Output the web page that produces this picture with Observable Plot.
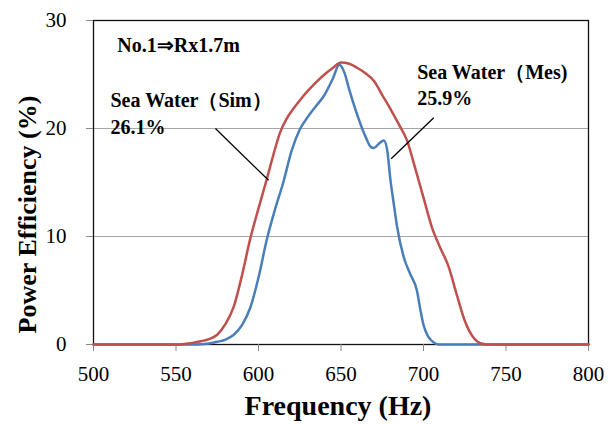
<!DOCTYPE html>
<html><head><meta charset="utf-8">
<script src="https://cdn.jsdelivr.net/npm/d3@7"></script>
<script src="https://cdn.jsdelivr.net/npm/@observablehq/plot@0.6"></script>
<style>html,body{margin:0;padding:0;background:#fff}#chart svg{display:block}</style>
</head><body><div id="chart"></div>
<script>
// Simulation (red)
const simFreq = [500, 550, 555, 560, 565, 570, 575, 580, 585, 590, 595, 600, 605, 610, 613, 617, 620, 625, 630, 635, 640, 645, 650, 655, 660, 665, 670, 675, 680, 685, 690, 695, 700, 705, 710, 715, 720, 725, 730, 735, 740, 800];
const simEff  = [0, 0, 0.05, 0.15, 0.3, 0.5, 0.9, 1.9, 3.5, 6.4, 9.8, 12.6, 15.3, 18.1, 19.6, 20.9, 21.6, 22.6, 23.5, 24.3, 25.0, 25.6, 26.1, 26.0, 25.6, 25.1, 24.4, 23.1, 21.8, 20.4, 18.9, 16.3, 13.6, 10.9, 9.0, 7.3, 4.7, 2.2, 0.7, 0.1, 0, 0];
// Measurement (blue)
const mesFreq = [500, 560, 565, 570, 575, 580, 585, 590, 595, 600, 605, 610, 615, 620, 625, 630, 635, 640, 645, 649, 652, 655, 660, 665, 668, 670, 673, 676, 678, 680, 682, 684, 688, 692, 696, 698, 700, 703, 706, 709, 800];
const mesEff  = [0, 0, 0.02, 0.1, 0.25, 0.45, 0.9, 1.8, 3.4, 6.2, 9.7, 12.5, 15.0, 17.9, 19.9, 21.1, 22.1, 23.1, 24.6, 25.9, 25.2, 23.6, 21.2, 19.2, 18.3, 18.2, 18.6, 18.9, 18.0, 15.2, 13.0, 10.9, 8.1, 6.5, 5.0, 3.3, 1.8, 0.7, 0.2, 0, 0];

const xTicks = [500, 550, 600, 650, 700, 750, 800];
const yTicks = [0, 10, 20, 30];
const gridLines = [10, 20];

// annotation texts, anchored in data space (freq, efficiency)
const noteText = ["No.1⇒Rx1.7m", "Sea Water（Sim）", "26.1%", "Sea Water（Mes)", "25.9%"];
const noteFreq = [514.4, 510.3, 510.3, 696.2, 696.2];
const noteEff  = [27.04, 21.97, 19.5, 24.6, 22.2];
// leader lines
const leadFreq1 = [573.9, 706.2];
const leadEff1  = [20.0, 21.0];
const leadFreq2 = [606.1, 680.4];
const leadEff2  = [15.2, 17.2];

const sim = simFreq.map((f, i) => ({f, v: simEff[i]}));
const mes = mesFreq.map((f, i) => ({f, v: mesEff[i]}));
const notes = noteText.map((t, i) => ({t, f: noteFreq[i], v: noteEff[i]}));
const leaders = leadFreq1.map((f, i) => ({f1: f, v1: leadEff1[i], f2: leadFreq2[i], v2: leadEff2[i]}));

const serif = "Liberation Serif";
const chart = Plot.plot({
  width: 614, height: 424,
  marginLeft: 93, marginRight: 26, marginTop: 20, marginBottom: 80,
  style: "font-family: 'Liberation Serif', serif; font-size: 21px; color: #000; background: #fff;",
  x: {domain: [500, 800]},
  y: {domain: [0, 30]},
  marks: [
    Plot.ruleY(gridLines, {stroke: "#a6a6a6", strokeWidth: 1}),
    Plot.frame({stroke: "#111", strokeWidth: 1.3}),
    Plot.axisX({ticks: xTicks, tickSize: 7, tickPadding: 15, stroke: "#888", label: null, fontSize: 21, fontFamily: serif}),
    Plot.axisY({ticks: yTicks, tickSize: 7, tickPadding: 20, stroke: "#888", label: null, fontSize: 21, fontFamily: serif}),
    Plot.line(mes, {x: "f", y: "v", stroke: "#4A7EBB", strokeWidth: 2.5, curve: "monotone-x"}),
    Plot.line(sim, {x: "f", y: "v", stroke: "#C0504D", strokeWidth: 2.5, curve: "monotone-x"}),
    Plot.link(leaders, {x1: "f1", y1: "v1", x2: "f2", y2: "v2", stroke: "#000", strokeWidth: 1.3}),
    Plot.text(notes, {x: "f", y: "v", text: "t", textAnchor: "start", lineAnchor: "bottom", fontWeight: "bold", fontSize: 20, fontFamily: serif, fill: "#000"}),
    Plot.text(["Power Efficiency (%)"], {frameAnchor: "left", textAnchor: "middle", rotate: -90, dx: -58, dy: 32, lineAnchor: "bottom", fontWeight: "bold", fontSize: 26, fontFamily: serif, fill: "#000"}),
    Plot.text(["Frequency (Hz)"], {frameAnchor: "bottom", textAnchor: "middle", dx: -3, dy: 70, lineAnchor: "bottom", fontWeight: "bold", fontSize: 28, fontFamily: serif, fill: "#000"})
  ]
});
document.getElementById("chart").append(chart);
</script>
</body></html>
